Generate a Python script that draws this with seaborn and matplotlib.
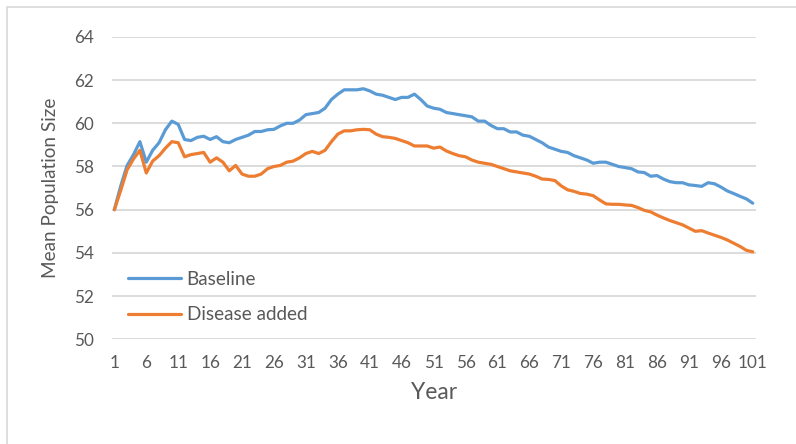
import pandas as pd
import matplotlib.pyplot as plt
import matplotlib.patches as patches
import seaborn as sns

# %%
# data

years = list(range(1, 102))

baseline = [
    56.0, 57.1, 58.05, 58.55, 59.15, 58.2, 58.75, 59.1, 59.7, 60.1,
    59.95, 59.25, 59.2, 59.35, 59.4, 59.25, 59.38, 59.15, 59.1, 59.25,
    59.35, 59.45, 59.62, 59.62, 59.7, 59.72, 59.88, 60.0, 60.0, 60.15,
    60.4, 60.45, 60.5, 60.7, 61.1, 61.35, 61.55, 61.55, 61.55, 61.6,
    61.5, 61.35, 61.3, 61.2, 61.1, 61.2, 61.2, 61.35, 61.1, 60.8,
    60.7, 60.65, 60.5, 60.45, 60.4, 60.35, 60.3, 60.1, 60.1, 59.9,
    59.75, 59.75, 59.6, 59.6, 59.45, 59.4, 59.25, 59.1, 58.9, 58.8,
    58.7, 58.65, 58.5, 58.4, 58.3, 58.15, 58.2, 58.2, 58.1, 58.0,
    57.95, 57.9, 57.75, 57.72, 57.55, 57.58, 57.42, 57.3, 57.25, 57.25,
    57.15, 57.12, 57.08, 57.25, 57.2, 57.05, 56.87, 56.75, 56.62, 56.5,
    56.3,
]

disease = [
    56.0, 56.9, 57.85, 58.35, 58.75, 57.7, 58.25, 58.5, 58.85, 59.15,
    59.1, 58.45, 58.55, 58.6, 58.65, 58.2, 58.4, 58.2, 57.8, 58.05,
    57.65, 57.55, 57.55, 57.65, 57.9, 58.0, 58.05, 58.2, 58.25, 58.4,
    58.6, 58.7, 58.6, 58.75, 59.15, 59.5, 59.65, 59.65, 59.7, 59.72,
    59.7, 59.5, 59.38, 59.35, 59.3, 59.2, 59.1, 58.95, 58.95, 58.95,
    58.85, 58.9, 58.72, 58.6, 58.5, 58.45, 58.3, 58.2, 58.15, 58.1,
    58.0, 57.9, 57.8, 57.75, 57.7, 57.65, 57.55, 57.42, 57.4, 57.35,
    57.1, 56.92, 56.85, 56.75, 56.72, 56.65, 56.45, 56.27, 56.25, 56.25,
    56.22, 56.2, 56.1, 55.97, 55.9, 55.75, 55.62, 55.5, 55.4, 55.3,
    55.15, 55.0, 55.03, 54.92, 54.82, 54.72, 54.6, 54.45, 54.3, 54.12,
    54.05,
]

series_names = ["Baseline", "Disease added"]
series_colors = ["#5B9BD5", "#ED7D31"]

x_ticks = list(range(1, 102, 5))
y_ticks = list(range(50, 65, 2))

# %%
# long form table for seaborn

df = pd.concat([
    pd.DataFrame({"Year": years, "Mean": baseline, "Scenario": series_names[0]}),
    pd.DataFrame({"Year": years, "Mean": disease, "Scenario": series_names[1]}),
], ignore_index=True)

sns.set_style("white")
plt.rcParams["font.family"] = ["Lato", "DejaVu Sans"]

fig = plt.figure(figsize=(7.96, 4.44), dpi=100)
ax = fig.add_axes([0.1403, 0.2358, 0.8094, 0.6811])

sns.lineplot(data=df, x="Year", y="Mean", hue="Scenario",
             palette=dict(zip(series_names, series_colors)),
             linewidth=2.3, ax=ax)

ax.set_xlim(0.58, 101.5)
ax.set_ylim(50, 64)
ax.set_xticks(x_ticks)
ax.set_yticks(y_ticks)
ax.tick_params(axis="both", length=0, labelsize=12.3, colors="#595959")
ax.tick_params(axis="y", pad=12.5)
ax.tick_params(axis="x", pad=11)

ax.grid(axis="y", color="#D9D9D9", linewidth=1.3)
ax.grid(axis="x", visible=False)
ax.set_axisbelow(True)
for s in ax.spines.values():
    s.set_visible(False)

ax.set_xlabel("Year", fontsize=16.5, color="#595959", labelpad=8)
ax.set_ylabel("Mean Population Size", fontsize=13.6, color="#595959", labelpad=11)

ax.legend(loc="center left", bbox_to_anchor=(0.0253, 0.14), frameon=False,
          fontsize=13.6, handlelength=2.8, handletextpad=0.3, labelspacing=1.0,
          borderpad=0, borderaxespad=0, labelcolor="#595959")

# chart frame like the excel chart area
fig.patches.append(patches.Rectangle((0.0092, -0.1), 1.2, 1.0836,
                                     transform=fig.transFigure, fill=False,
                                     edgecolor="#D9D9D9", linewidth=1.2))

fig.savefig("out.png", dpi=100)
